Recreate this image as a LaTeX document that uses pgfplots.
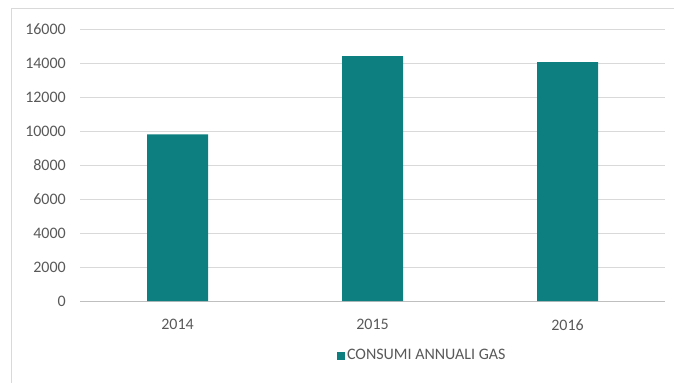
\documentclass[border=0pt]{standalone}
\usepackage{fontspec}
\setmainfont{Carlito}
\usepackage{pgfplots}
\pgfplotsset{compat=1.18}
\definecolor{barteal}{HTML}{0E7F80}
\definecolor{txtgray}{HTML}{595959}
\definecolor{gridgray}{HTML}{D9D9D9}
\definecolor{axisgray}{HTML}{BFBFBF}
\begin{document}
\fontsize{16pt}{19pt}\selectfont
\begin{tikzpicture}[x=1pt,y=1pt]
\useasboundingbox (0,0) rectangle (674,383);
\draw[gridgray, line width=1pt] (11,0) -- (11,374) -- (674,374);
\begin{axis}[
  at={(80pt,82pt)}, anchor=south west,
  scale only axis, width=585pt, height=272pt,
  xmin=-0.5, xmax=2.5, ymin=0, ymax=16000,
  xtick={0,1,2}, xticklabels={2014,2015,2016},
  ytick={0,2000,...,16000},
  /pgf/number format/assume math mode=true,
  /pgf/number format/1000 sep={},
  scaled y ticks=false,
  major tick length=0pt,
  ymajorgrids, grid style={gridgray, line width=0.8pt},
  axis x line*=bottom, axis y line*=left,
  x axis line style={axisgray, line width=1pt, -},
  y axis line style={draw=none},
  tick label style={font=\fontsize{16pt}{19pt}\selectfont, text=txtgray},
  yticklabel style={inner sep=0pt, anchor=east, xshift=-14pt},
  xticklabel style={inner sep=0pt, anchor=north, yshift=-18pt},
  legend style={at={(0.585,-0.202)}, anchor=center, draw=none, fill=none,
    font=\fontsize{16pt}{19pt}\selectfont, text=txtgray, inner sep=0pt,
    /tikz/every even column/.append style={column sep=3pt}},
  legend image code/.code={\fill[barteal] (0pt,-4pt) rectangle (8pt,4pt);},
  legend cell align=left,
]
\addplot[ybar, bar width=61pt, fill=barteal, draw=none] coordinates {(0,9800) (1,14400) (2,14050)};
\addlegendentry{CONSUMI ANNUALI GAS}
\end{axis}
\end{tikzpicture}
\end{document}
